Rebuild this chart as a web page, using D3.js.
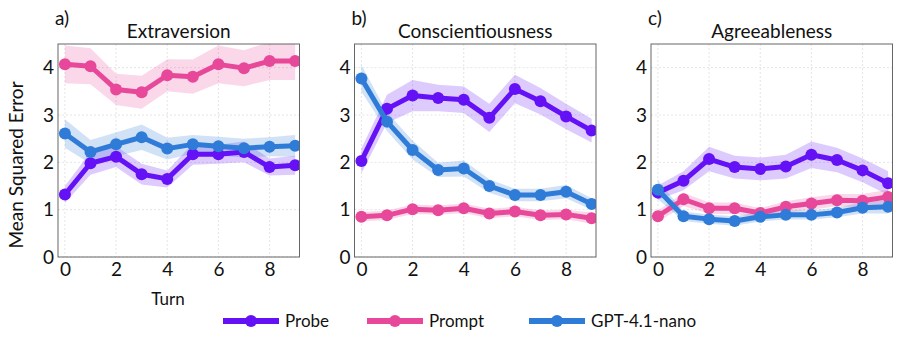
<!DOCTYPE html>
<html>
<head>
<meta charset="utf-8">
<script src="https://cdn.jsdelivr.net/npm/d3@7"></script>
<style>
  body { margin: 0; background: #fff; }
  text { font-family: Lato, "Open Sans", sans-serif; fill: #111; }
</style>
</head>
<body>
<div class="graph"></div>
<script>
let w = 897;
let h = 340;

let turns = [0, 1, 2, 3, 4, 5, 6, 7, 8, 9];
let panelTitles = ["Extraversion", "Conscientiousness", "Agreeableness"];
let panelTags = ["a)", "b)", "c)"];
let seriesNames = ["Probe", "Prompt", "GPT-4.1-nano"];
let seriesColors = ["#6412f5", "#e8489a", "#2f7bd8"];
let yTicks = [0, 1, 2, 3, 4];
let xTicks = [0, 2, 4, 6, 8];

// means, one row per series (probe, prompt, gpt)
let extraMean = [
  [1.32, 1.98, 2.12, 1.75, 1.65, 2.17, 2.17, 2.22, 1.9, 1.94],
  [4.07, 4.03, 3.54, 3.48, 3.84, 3.81, 4.07, 3.99, 4.14, 4.14],
  [2.61, 2.22, 2.38, 2.53, 2.29, 2.38, 2.34, 2.3, 2.33, 2.35]
];
let extraErr = [
  [0.18, 0.24, 0.22, 0.22, 0.18, 0.22, 0.2, 0.22, 0.18, 0.2],
  [0.4, 0.38, 0.33, 0.35, 0.34, 0.36, 0.4, 0.38, 0.4, 0.4],
  [0.3, 0.25, 0.25, 0.27, 0.23, 0.2, 0.2, 0.2, 0.2, 0.23]
];
let consMean = [
  [2.03, 3.13, 3.41, 3.36, 3.32, 2.94, 3.55, 3.29, 2.97, 2.67],
  [0.85, 0.88, 1.01, 0.99, 1.03, 0.92, 0.96, 0.88, 0.9, 0.82],
  [3.77, 2.86, 2.26, 1.84, 1.87, 1.5, 1.31, 1.31, 1.38, 1.12]
];
let consErr = [
  [0.26, 0.3, 0.33, 0.28, 0.28, 0.3, 0.3, 0.28, 0.27, 0.25],
  [0.1, 0.1, 0.1, 0.1, 0.1, 0.1, 0.1, 0.1, 0.1, 0.12],
  [0.28, 0.2, 0.2, 0.15, 0.17, 0.14, 0.13, 0.13, 0.14, 0.12]
];
let agreeMean = [
  [1.36, 1.61, 2.07, 1.9, 1.86, 1.91, 2.16, 2.05, 1.83, 1.56],
  [0.86, 1.22, 1.03, 1.03, 0.93, 1.06, 1.13, 1.2, 1.19, 1.27],
  [1.42, 0.86, 0.8, 0.76, 0.85, 0.89, 0.89, 0.94, 1.04, 1.06]
];
let agreeErr = [
  [0.15, 0.2, 0.26, 0.24, 0.24, 0.25, 0.28, 0.26, 0.25, 0.25],
  [0.12, 0.14, 0.12, 0.12, 0.1, 0.12, 0.13, 0.13, 0.14, 0.15],
  [0.2, 0.1, 0.1, 0.1, 0.1, 0.1, 0.1, 0.1, 0.12, 0.14]
];

let means = [extraMean, consMean, agreeMean];
let errs = [extraErr, consErr, agreeErr];

let panelLeft = [58, 354.5, 651];
let panelW = 241.5;
let plotTop = 44;
let plotBottom = 257;

let svgvar = d3
  .select(".graph")
  .append("svg")
  .attr("width", w)
  .attr("height", h);

let yScale = d3.scaleLinear().domain([0, 4.5]).range([plotBottom, plotTop]);

panelTitles.forEach(function (title, p) {
  let xScale = d3
    .scaleLinear()
    .domain([-0.27, 9.17])
    .range([panelLeft[p], panelLeft[p] + panelW]);

  let g = svgvar.append("g");

  // grid
  g.selectAll(".gx")
    .data(xTicks)
    .enter()
    .append("line")
    .attr("x1", (d) => xScale(d))
    .attr("x2", (d) => xScale(d))
    .attr("y1", plotTop)
    .attr("y2", plotBottom)
    .attr("stroke", "#ddd")
    .attr("stroke-width", 0.8)
    .attr("stroke-dasharray", "2,2");
  g.selectAll(".gy")
    .data(yTicks)
    .enter()
    .append("line")
    .attr("x1", panelLeft[p])
    .attr("x2", panelLeft[p] + panelW)
    .attr("y1", (d) => yScale(d))
    .attr("y2", (d) => yScale(d))
    .attr("stroke", "#ddd")
    .attr("stroke-width", 0.8)
    .attr("stroke-dasharray", "2,2");

  // axes (labels only)
  let xAxis = d3.axisBottom(xScale).tickValues(xTicks).tickSize(0).tickPadding(6).tickFormat(d3.format("d"));
  let yAxis = d3.axisLeft(yScale).tickValues(yTicks).tickSize(0).tickPadding(4).tickFormat(d3.format("d"));
  let gx = g.append("g").attr("transform", "translate(0," + plotBottom + ")").call(xAxis);
  let gy = g.append("g").attr("transform", "translate(" + panelLeft[p] + ",0)").call(yAxis);
  [gx, gy].forEach(function (a) {
    a.select(".domain").remove();
    a.selectAll("text").style("font-size", "19px").attr("fill", "#111");
  });

  // clip
  let clipId = "clip" + p;
  g.append("clipPath")
    .attr("id", clipId)
    .append("rect")
    .attr("x", panelLeft[p])
    .attr("y", plotTop)
    .attr("width", panelW)
    .attr("height", plotBottom - plotTop);

  let plot = g.append("g").attr("clip-path", "url(#" + clipId + ")");

  let area = d3
    .area()
    .x((d, i) => xScale(turns[i]))
    .y0((d) => yScale(d[0]))
    .y1((d) => yScale(d[1]));
  let line = d3
    .line()
    .x((d, i) => xScale(turns[i]))
    .y((d) => yScale(d));

  seriesNames.forEach(function (name, s) {
    let m = means[p][s];
    let e = errs[p][s];
    let band = m.map((v, i) => [v - e[i], v + e[i]]);
    plot.append("path")
      .attr("d", area(band))
      .attr("fill", seriesColors[s])
      .attr("fill-opacity", 0.22);
  });
  seriesNames.forEach(function (name, s) {
    let m = means[p][s];
    plot.append("path")
      .attr("d", line(m))
      .attr("fill", "none")
      .attr("stroke", seriesColors[s])
      .attr("stroke-width", 5)
      .attr("stroke-linejoin", "round");
    plot.selectAll(".dot" + s)
      .data(m)
      .enter()
      .append("circle")
      .attr("cx", (d, i) => xScale(turns[i]))
      .attr("cy", (d) => yScale(d))
      .attr("r", 6)
      .attr("fill", seriesColors[s]);
  });

  // frame
  g.append("rect")
    .attr("x", panelLeft[p])
    .attr("y", plotTop)
    .attr("width", panelW)
    .attr("height", plotBottom - plotTop)
    .attr("fill", "none")
    .attr("stroke", "#666")
    .attr("stroke-width", 1);

  g.append("text")
    .attr("x", panelLeft[p] + panelW / 2)
    .attr("y", 38)
    .attr("text-anchor", "middle")
    .style("font-size", "19px")
    .text(title);
  g.append("text")
    .attr("x", panelLeft[p] - 3)
    .attr("y", 25)
    .style("font-size", "19px")
    .text(panelTags[p]);
});

svgvar.append("text")
  .attr("transform", "translate(23,165) rotate(-90)")
  .attr("text-anchor", "middle")
  .style("font-size", "19px")
  .text("Mean Squared Error");

svgvar.append("text")
  .attr("x", 168)
  .attr("y", 305)
  .attr("text-anchor", "middle")
  .style("font-size", "17px")
  .text("Turn");

// legend
let legendX = [223, 367, 529];
seriesNames.forEach(function (name, s) {
  let lg = svgvar.append("g").attr("transform", "translate(" + legendX[s] + ",321)");
  lg.append("line")
    .attr("x1", 0)
    .attr("x2", 56)
    .attr("stroke", seriesColors[s])
    .attr("stroke-width", 6);
  lg.append("circle").attr("cx", 28).attr("r", 6).attr("fill", seriesColors[s]);
  lg.append("text")
    .attr("x", 62)
    .attr("y", 6)
    .style("font-size", "17px")
    .text(name);
});
</script>
</body>
</html>
